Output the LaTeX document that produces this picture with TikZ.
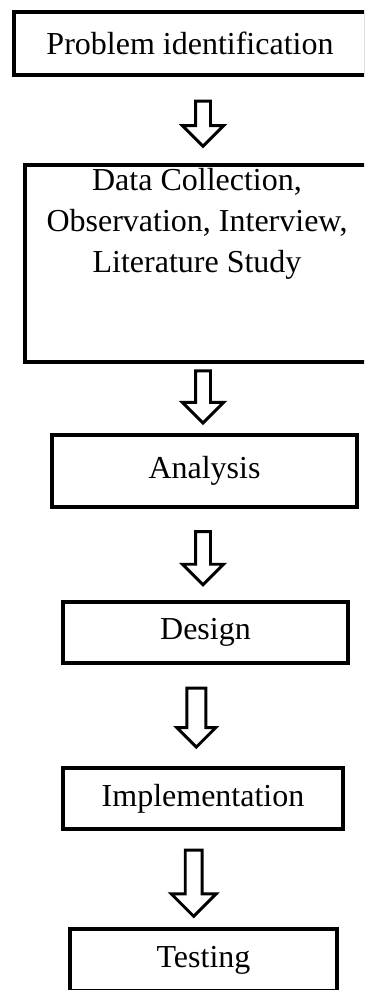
\documentclass[tikz,border=0pt]{standalone}
\usepackage{fontspec}
\setmainfont{Liberation Serif}
\usetikzlibrary{positioning, shapes, arrows.meta}

\begin{document}
\begin{tikzpicture}[x=0.375pt, y=-0.375pt, thick]
		
		\tikzstyle{box}=[rectangle, draw, line width=1.5pt, text=black, inner sep=0pt, font=\fontsize{12}{15.4}\selectfont]
		\tikzstyle{flow}=[single arrow, draw, fill=white, line width=1.1pt, shape border rotate=270, inner sep=2.25pt, single arrow head extend=4.9pt]
		
		\useasboundingbox (0,0) rectangle (364,990);
		\clip (0,0) rectangle (364,990);
		
		\node[box, minimum width=132pt, minimum height=23.6pt] (prob) at (190,43.5) {Problem identification};
		\node[box, minimum width=129pt, anchor=north, inner ysep=1.5pt, text height=8.2pt, text depth=62.7pt] (data) at (197,163)
			{\begin{tabular}[t]{@{}c@{}}Data Collection,\\Observation, Interview,\\Literature Study\end{tabular}};
		\node[box, minimum width=114.4pt, minimum height=27pt] (anal) at (204.5,471) {Analysis};
		\node[box, minimum width=106.9pt, minimum height=22.9pt] (desg) at (205.5,632.5) {Design};
		\node[box, minimum width=105pt, minimum height=22.9pt] (impl) at (203,798.5) {Implementation};
		\node[box, minimum width=100pt, minimum height=23.3pt] (test) at (203.5,960) {Testing};
		
		% block arrows between the steps
		\coordinate (col) at (203,0);
		\path (prob.south -| col) -- (data.north -| col) node[flow, midway, minimum height=16.9pt] (a1) {};
		\path (data.south -| col) -- (anal.north -| col) node[flow, midway, yshift=2pt, minimum height=19.5pt] (a2) {};
		\path (anal.south -| col) -- (desg.north -| col) node[flow, midway, minimum height=19.9pt] (a3) {};
		\path (desg.south -| col) -- (impl.north -| col) node[flow, midway, xshift=-2.5pt, yshift=1pt, minimum height=22.1pt, inner sep=3pt, single arrow head extend=3.75pt] (a4) {};
		\path (impl.south -| col) -- (test.north -| col) node[flow, midway, xshift=-3.5pt, minimum height=24.8pt, inner sep=2.6pt, single arrow head extend=5.25pt] (a5) {};
		
\end{tikzpicture}
\end{document}
